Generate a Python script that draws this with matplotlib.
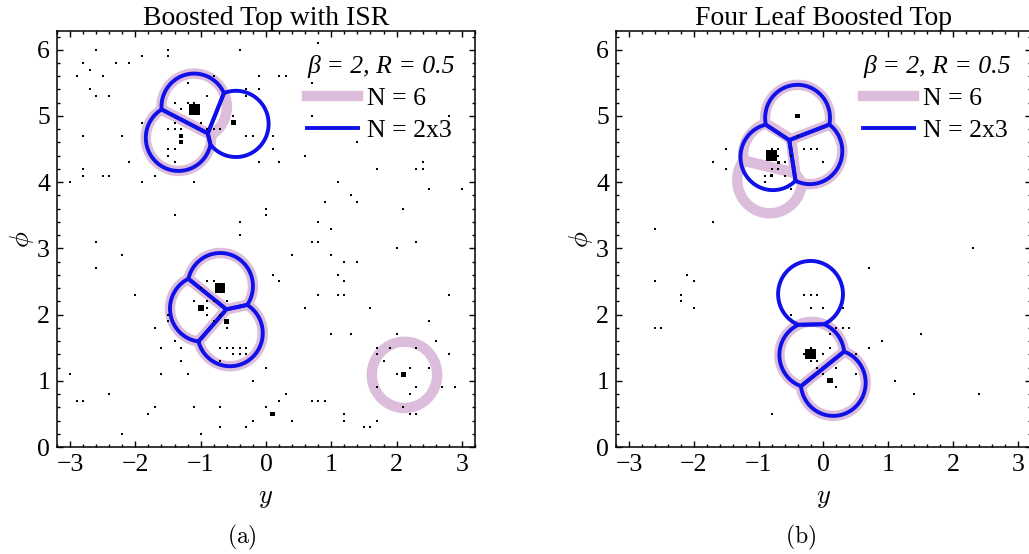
import numpy as np
import matplotlib.pyplot as plt
from matplotlib.lines import Line2D

plt.rcParams['font.family'] = ['Liberation Serif', 'DejaVu Serif']

R = 0.5

# ---- panel (a): boosted top with ISR ----
isr_axes_n6 = [(-1.10, 5.14), (-1.34, 4.67),
               (-0.70, 2.43), (-0.97, 2.09), (-0.55, 1.72),
               (2.12, 1.09)]
isr_axes_2x3 = [[(-1.10, 5.14), (-1.34, 4.67), (-0.46, 4.88)],
                [(-0.70, 2.43), (-0.97, 2.09), (-0.55, 1.72)]]

isr_hard_y = [-1.1, -0.5, -1.3, -1.3, -0.7, -1.0, -0.6, 2.1, 0.1]
isr_hard_phi = [5.1, 4.9, 4.7, 4.6, 2.4, 2.1, 1.9, 1.1, 0.5]
isr_hard_pt = [50, 10, 9, 7, 40, 14, 11, 10, 9]

isr_soft = [
    (-2.6, 6.0), (-1.9, 5.9), (-1.5, 6.0), (-1.5, 5.9), (-0.4, 6.0), (0.8, 6.1),
    (-2.8, 5.8), (-2.3, 5.8), (-2.1, 5.8), (-2.7, 5.7), (-2.9, 5.6), (-2.5, 5.6),
    (-0.8, 5.6), (-0.1, 5.6), (0.2, 5.6), (0.3, 5.6), (0.7, 5.5),
    (-2.7, 5.4), (-1.2, 5.5), (-2.6, 5.3), (-2.4, 5.3), (-0.3, 5.4), (-0.1, 5.4),
    (-0.3, 5.3), (-0.9, 5.3), (-1.4, 5.2), (-1.2, 5.2), (-1.1, 5.2), (-1.3, 5.1),
    (-1.0, 4.9), (-1.4, 4.9), (-1.3, 4.8), (-1.5, 4.8), (-1.4, 4.8), (-0.9, 4.8),
    (-0.8, 4.8), (-0.7, 4.8), (-0.5, 5.0), (0.7, 5.0), (2.8, 5.0),
    (-1.5, 4.5), (-1.4, 4.5), (-1.5, 4.4), (-1.4, 4.3), (-2.1, 4.3), (-1.9, 4.9),
    (-2.2, 4.7), (-2.8, 4.7), (-0.3, 4.7), (-0.2, 4.7), (0.1, 4.7), (0.1, 4.5),
    (-0.1, 4.3), (1.4, 4.6), (-2.8, 4.2), (-2.8, 4.1), (-2.5, 4.1), (-2.4, 4.1),
    (-1.7, 4.1), (-3.0, 4.0), (-1.9, 4.0), (-1.1, 4.0), (0.6, 4.4), (0.2, 4.3),
    (2.4, 4.3), (2.3, 4.2), (2.4, 4.2), (1.7, 4.2), (1.1, 4.0), (3.0, 3.9), (2.5, 3.9),
    (0.9, 3.7), (1.3, 3.8), (1.4, 3.7), (2.1, 3.6), (0.8, 3.4), (1.0, 3.3),
    (-0.4, 3.2), (-1.4, 3.5), (0.0, 3.6), (0.0, 3.5), (-0.4, 3.4),
    (-2.6, 3.1), (0.7, 3.1), (0.8, 3.1), (2.3, 3.1), (2.0, 3.0), (-2.2, 2.9),
    (0.4, 2.9), (1.0, 2.9), (1.2, 2.8), (1.4, 2.8), (-2.6, 2.7), (0.1, 2.6),
    (1.1, 2.6), (0.2, 2.5), (1.2, 2.5), (-2.0, 2.3), (0.8, 2.3), (1.1, 2.3),
    (1.2, 2.3), (2.8, 2.3), (0.6, 2.1), (1.6, 2.1), (2.5, 1.9), (-1.7, 1.8),
    (1.0, 1.7), (1.3, 1.7), (2.0, 1.7), (2.6, 1.6), (-1.4, 1.6), (-1.6, 1.5),
    (-1.3, 1.5), (2.8, 1.4), (-1.3, 1.3), (1.8, 1.3), (1.7, 1.5), (1.7, 1.4),
    (1.9, 1.5), (2.3, 1.5), (0.0, 1.2), (-3.0, 1.1), (-1.6, 1.1), (-1.2, 1.1),
    (2.0, 1.1), (2.2, 1.2), (2.5, 1.2), (-0.2, 1.0), (2.3, 0.9), (1.7, 0.9),
    (2.7, 0.9), (2.9, 0.9), (-2.4, 0.8), (0.3, 0.8), (2.2, 0.8), (-2.9, 0.7),
    (-2.8, 0.7), (0.2, 0.7), (0.7, 0.7), (0.8, 0.7), (0.9, 0.7), (-1.7, 0.6),
    (-1.1, 0.6), (-0.7, 0.6), (0.0, 0.6), (2.1, 0.6), (2.2, 0.5), (2.3, 0.5),
    (-1.8, 0.5), (-0.2, 0.4), (0.4, 0.4), (1.2, 0.5), (1.2, 0.4), (1.7, 0.4),
    (-0.7, 0.3), (-0.3, 0.3), (1.5, 0.3), (1.6, 0.3), (-2.2, 0.2), (-1.0, 0.2),
    (-0.9, 2.5), (-0.8, 2.5), (-1.0, 2.4), (-1.1, 2.2), (-0.9, 2.2), (-0.8, 2.2),
    (-0.9, 2.1), (-0.9, 2.0), (-0.7, 2.0), (-0.6, 2.2), (-0.8, 1.9), (-0.6, 1.8),
    (-1.5, 2.0), (-1.5, 1.9), (-0.7, 1.5), (-0.6, 1.5), (-0.5, 1.5), (-0.4, 1.5),
    (-0.3, 1.5), (-0.5, 1.4), (-0.4, 1.4), (-0.3, 1.4), (-0.7, 1.3),
]

# ---- panel (b): four leaf boosted top ----
leaf_axes_n6 = [(-0.40, 4.97), (-0.21, 4.47), (-0.74, 4.41), (-0.83, 4.03),
                (-0.18, 1.39), (0.15, 0.97)]
leaf_axes_2x3 = [[(-0.40, 4.97), (-0.21, 4.47), (-0.78, 4.38)],
                 [(-0.20, 2.31), (-0.18, 1.39), (0.15, 0.97)]]

leaf_hard_y = [-0.8, -0.4, -0.8, -0.7, -0.2, 0.1]
leaf_hard_phi = [4.4, 5.0, 4.1, 4.3, 1.4, 1.0]
leaf_hard_pt = [50, 8, 5, 4, 45, 12]

leaf_soft = [
    (-1.5, 4.5), (-1.7, 4.3), (-1.5, 4.2), (-0.8, 4.5), (-0.7, 4.5), (-0.7, 4.4),
    (-0.8, 4.2), (-0.7, 4.2), (-0.6, 4.3), (-0.6, 4.1), (-0.9, 4.1), (-0.9, 4.0),
    (-0.5, 3.9), (-0.5, 4.4), (-0.3, 4.5), (-0.2, 4.5), (-0.1, 4.5), (0.0, 4.3),
    (-1.7, 3.4), (-2.6, 3.3), (-0.4, 4.7),
    (-2.6, 2.5), (-2.1, 2.6), (-2.0, 2.5), (-2.2, 2.3), (-2.2, 2.2), (-2.0, 2.1),
    (-2.6, 1.8), (-2.5, 1.8), (2.3, 3.0), (0.7, 2.7), (-0.3, 2.3), (-0.2, 2.3),
    (-0.1, 2.3), (-0.2, 2.1), (0.0, 2.1), (0.3, 2.1), (-0.5, 2.0), (0.2, 1.8),
    (0.3, 1.8), (0.4, 1.8), (0.1, 1.7), (1.5, 1.7), (0.9, 1.6), (0.7, 1.5),
    (-0.2, 1.5), (0.1, 1.5), (-0.3, 1.4), (0.0, 1.4), (-0.1, 1.3), (-0.2, 1.3),
    (0.5, 1.4), (-0.1, 1.2), (0.2, 1.2), (0.0, 1.1), (0.5, 1.1), (0.2, 0.9),
    (1.1, 1.0), (1.4, 0.8), (2.4, 0.8), (-0.8, 0.5),
]

PURPLE = '#dcbedc'
BLUE = '#1010e8'


def draw_regions(ax, jets, color, lw, z):
    # XCone-style regions: inside R of the axis and closer to it than any other axis
    c = np.array(jets)
    for k, (cx, cy) in enumerate(c):
        gx = np.linspace(cx - 0.62, cx + 0.62, 500)
        gy = np.linspace(cy - 0.62, cy + 0.62, 500)
        X, Y = np.meshgrid(gx, gy)
        f = np.hypot(X - cx, Y - cy) - R
        for j, (jx, jy) in enumerate(c):
            if j == k:
                continue
            d = np.hypot(jx - cx, jy - cy)
            s = ((X - cx) * (jx - cx) + (Y - cy) * (jy - cy)) / d - d / 2
            f = np.maximum(f, s)
        ax.contour(X, Y, f, levels=[0], colors=color, linewidths=lw, zorder=z)


def setup(ax, title):
    ax.set_xlim(-np.pi, np.pi)
    ax.set_ylim(0, 2 * np.pi)
    ax.set_xticks(range(-3, 4))
    ax.set_yticks(range(0, 7))
    ax.set_xticks(np.arange(-3.2, 3.21, 0.2), minor=True)
    ax.set_yticks(np.arange(0, 6.3, 0.2), minor=True)
    ax.set_xticklabels(['\u22123', '\u22122', '\u22121', '0', '1', '2', '3'])
    ax.tick_params(which='both', direction='in', top=True, right=True,
                   labelsize=18.5, width=1.0, pad=5)
    ax.tick_params(which='major', length=4.2)
    ax.tick_params(which='minor', length=2.3)
    for sp in ax.spines.values():
        sp.set_linewidth(1.1)
    ax.set_title(title, fontsize=20, pad=3)
    ax.set_xlabel(r'$y$', fontsize=19, math_fontfamily='cm', labelpad=9)
    ax.set_ylabel(r'$\phi$', fontsize=19, math_fontfamily='cm', labelpad=1)
    handles = [Line2D([], [], color=PURPLE, lw=7.5),
               Line2D([], [], color=BLUE, lw=2.8)]
    leg = ax.legend(handles, ['N = 6', 'N = 2x3'], loc='upper right',
                    bbox_to_anchor=(0.988, 0.98), frameon=False, fontsize=18.5,
                    title='\u03b2 = 2, R = 0.5', alignment='left',
                    handlelength=2.0, handletextpad=0.35, labelspacing=0.36,
                    borderaxespad=0.2)
    leg.get_title().set_fontsize(18.5)
    leg.get_title().set_style('italic')


fig = plt.figure(figsize=(10.29, 5.54), dpi=100)
W, H = 1029, 554
ax1 = fig.add_axes([57 / W, (H - 447) / H, 418 / W, 416 / H])
ax2 = fig.add_axes([616 / W, (H - 447) / H, 415 / W, 416 / H])

panels = [(ax1, 'Boosted Top with ISR', isr_axes_n6, isr_axes_2x3, isr_soft,
           isr_hard_y, isr_hard_phi, isr_hard_pt),
          (ax2, 'Four Leaf Boosted Top', leaf_axes_n6, leaf_axes_2x3, leaf_soft,
           leaf_hard_y, leaf_hard_phi, leaf_hard_pt)]

for ax, title, n6, n2x3, soft, hy, hphi, hpt in panels:
    draw_regions(ax, n6, PURPLE, 7.5, 1)
    for group in n2x3:
        draw_regions(ax, group, BLUE, 2.8, 2)
    sy, sphi = zip(*soft)
    ax.scatter(sy, sphi, s=1.4, marker='s', c='black', linewidths=0, zorder=3)
    ax.scatter(hy, hphi, s=np.array(hpt) * 1.2, marker='s', c='black',
               linewidths=0, zorder=3)
    setup(ax, title)

fig.text(242 / W, 1 - 537 / H, r'$\mathrm{(a)}$', math_fontfamily='cm',
         fontsize=17, ha='center', va='center')
fig.text(801 / W, 1 - 537 / H, r'$\mathrm{(b)}$', math_fontfamily='cm',
         fontsize=17, ha='center', va='center')

fig.savefig('out.png', dpi=100)
